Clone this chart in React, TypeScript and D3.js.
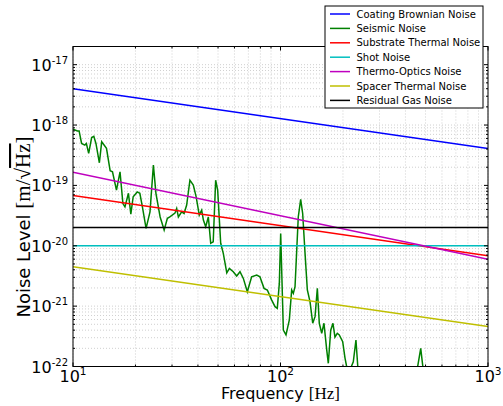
import React from "react";
import * as d3 from "d3";

// straight lines on log-log axes: values read at 10 Hz and 1 kHz
const lineFreqs = [10, 1000];
const coatingBrownian = [4.0e-18, 4.1e-19];
const substrateThermal = [6.8e-20, 6.8e-21];
const shotNoise = [1.0e-20, 1.0e-20];
const thermoOptics = [1.66e-19, 6.0e-21];
const spacerThermal = [4.5e-21, 4.6e-22];
const residualGas = [2.0e-20, 2.0e-20];

// seismic noise trace
const seismicFreqs = [
  10.0, 10.5, 10.7, 11.0, 11.4, 11.6, 11.9, 12.3, 12.6, 12.9,
  13.4, 13.75, 14.5, 15.1, 15.5, 16.2, 16.85, 17.4, 17.8, 18.5,
  19.0, 19.5, 20.4, 21.0, 21.6, 22.5, 23.5, 24.4, 25.1, 26.3,
  27.5, 28.5, 29.3, 31.0, 31.6, 32.2, 33.4, 34.3, 35.3, 36.6,
  38.0, 39.2, 40.6, 41.7, 42.5, 43.6, 44.9, 46.1, 47.4, 48.7,
  49.8, 51.5, 53.0, 55.1, 56.7, 59.2, 61.5, 63.8, 66.2, 69.2,
  72.6, 76.8, 79.6, 83.3, 86.4, 90.7, 94.1, 96.5, 98.7, 100.2,
  103.2, 106.3, 110.3, 113.2, 115.3, 117.5, 121.8, 125.1, 127.9, 131.3,
  134.7, 138.8, 143, 146.7, 150.5, 153.8, 158, 162, 167, 170,
  174.6, 179, 183, 187.8, 192, 199.4, 204.6, 210, 216, 224.3,
  231, 236.4, 285, 377, 457, 474, 486, 656, 1000,
];
const seismic = [
  8.55e-19, 8.0e-19, 8.0e-19, 4.95e-19, 4.65e-19, 4.95e-19, 3.4e-19, 6.2e-19, 6.5e-19, 4.95e-19,
  2.37e-19, 5.27e-19, 4.1e-19, 1.75e-19, 1.68e-19, 8.35e-20, 1.68e-19, 5.0e-20, 4.4e-20, 7.4e-20,
  3.35e-20, 6.5e-20, 7.8e-20, 7.4e-20, 4.4e-20, 1.94e-20, 3.65e-20, 2.17e-19, 7.4e-20, 3.0e-20,
  1.82e-20, 2.85e-20, 3.0e-20, 3.47e-20, 4.15e-20, 3.0e-20, 3.65e-20, 3.43e-20, 4.72e-20, 1.22e-19,
  1.01e-19, 6.5e-20, 3.22e-20, 3.9e-20, 2.66e-20, 2.07e-20, 3.0e-20, 1.1e-20, 1.16e-20, 1.22e-19,
  8.35e-20, 1.1e-20, 7.5e-21, 3.57e-21, 4.23e-21, 3.72e-21, 3.15e-21, 3.72e-21, 2.88e-21, 1.73e-21,
  3.07e-21, 3.27e-21, 3.07e-21, 1.97e-21, 1.85e-21, 1.26e-21, 9.8e-22, 9.2e-22, 2.38e-21, 1.6e-20,
  4.0e-22, 3.33e-22, 5.9e-22, 1.85e-21, 1.63e-21, 2.1e-21, 3.0e-20, 5.86e-20, 3.43e-20, 7.5e-21,
  1.85e-21, 1.18e-21, 5.2e-22, 6.7e-22, 1.97e-21, 5.2e-22, 3.55e-22, 5.2e-22, 1.88e-22, 1.13e-22,
  4.0e-22, 5.2e-22, 3.08e-22, 3.55e-22, 3.33e-22, 2.58e-22, 1.38e-22, 8.7e-23, 8.7e-23, 1.2e-22,
  2.75e-22, 8.7e-23, 5e-23, 6e-23, 9.5e-23, 2.0e-22, 9.5e-23, 5e-23, 6e-23,
];

const xTickExps = [1, 2, 3];
const yTickExps = [-22, -21, -20, -19, -18, -17];

const legendLabels = [
  "Coating Brownian Noise",
  "Seismic Noise",
  "Substrate Thermal Noise",
  "Shot Noise",
  "Thermo-Optics Noise",
  "Spacer Thermal Noise",
  "Residual Gas Noise",
];
const colors = ["#0000ff", "#008000", "#ff0000", "#00bfbf", "#bf00bf", "#bfbf00", "#000000"];

const W = 503;
const H = 406;
const margin = { top: 46.5, right: 15, bottom: 39.5, left: 73 };
const font = "DejaVu Sans, sans-serif";
const serif = "Liberation Serif, serif";

export default function App() {
  const x = d3.scaleLog().domain([10, 1000]).range([margin.left, W - margin.right]);
  const y = d3.scaleLog().domain([1e-22, 2e-17]).range([H - margin.bottom, margin.top]);
  const [x0, x1] = x.range();
  const [y0, y1] = y.range();

  const line = d3
    .line<[number, number]>()
    .x((d) => x(d[0]))
    .y((d) => y(d[1]));

  const pair = (fs: number[], vs: number[]) => fs.map((f, i) => [f, vs[i]] as [number, number]);
  const series = [
    pair(lineFreqs, coatingBrownian),
    pair(seismicFreqs, seismic),
    pair(lineFreqs, substrateThermal),
    pair(lineFreqs, shotNoise),
    pair(lineFreqs, thermoOptics),
    pair(lineFreqs, spacerThermal),
    pair(lineFreqs, residualGas),
  ];

  const xMajor = xTickExps.map((e) => Math.pow(10, e));
  const xMinor = [10, 100].flatMap((d) => d3.range(2, 10).map((m) => m * d));
  const yMajor = yTickExps.map((e) => Math.pow(10, e));
  const yMinor = yTickExps.flatMap((e) => d3.range(2, 10).map((m) => m * Math.pow(10, e))).filter((v) => v <= 2e-17);

  const gridStyle = { stroke: "#c4c4c4", strokeWidth: 0.8, strokeDasharray: "1,2" };

  return (
    <svg width={W} height={H} style={{ position: "absolute", left: 0, top: 0, background: "#fff" }}>
      <defs>
        <clipPath id="plot">
          <rect x={x0} y={y1} width={x1 - x0} height={y0 - y1} />
        </clipPath>
      </defs>

      {/* grid */}
      {[...xMajor, ...xMinor].map((v, i) => (
        <line key={"gx" + i} x1={x(v)} x2={x(v)} y1={y0} y2={y1} {...gridStyle} />
      ))}
      {[...yMajor, ...yMinor].map((v, i) => (
        <line key={"gy" + i} x1={x0} x2={x1} y1={y(v)} y2={y(v)} {...gridStyle} />
      ))}

      {/* series */}
      <g clipPath="url(#plot)">
        {series.map((s, i) => (
          <path key={i} d={line(s) || ""} fill="none" stroke={colors[i]} strokeWidth={1.5} />
        ))}
      </g>

      {/* ticks, inside, on all sides */}
      {xMajor.map((v, i) => (
        <g key={"xt" + i}>
          <line x1={x(v)} x2={x(v)} y1={y0} y2={y0 - 4} stroke="#000" />
          <line x1={x(v)} x2={x(v)} y1={y1} y2={y1 + 4} stroke="#000" />
        </g>
      ))}
      {xMinor.map((v, i) => (
        <g key={"xm" + i}>
          <line x1={x(v)} x2={x(v)} y1={y0} y2={y0 - 2} stroke="#000" />
          <line x1={x(v)} x2={x(v)} y1={y1} y2={y1 + 2} stroke="#000" />
        </g>
      ))}
      {yMajor.map((v, i) => (
        <g key={"yt" + i}>
          <line x1={x0} x2={x0 + 4} y1={y(v)} y2={y(v)} stroke="#000" />
          <line x1={x1} x2={x1 - 4} y1={y(v)} y2={y(v)} stroke="#000" />
        </g>
      ))}
      {yMinor.map((v, i) => (
        <g key={"ym" + i}>
          <line x1={x0} x2={x0 + 2} y1={y(v)} y2={y(v)} stroke="#000" />
          <line x1={x1} x2={x1 - 2} y1={y(v)} y2={y(v)} stroke="#000" />
        </g>
      ))}

      <rect x={x0} y={y1} width={x1 - x0} height={y0 - y1} fill="none" stroke="#000" strokeWidth={1} />

      {/* tick labels */}
      {xTickExps.map((e) => (
        <text key={"xl" + e} x={x(Math.pow(10, e))} y={y0 + 15} textAnchor="middle" fontFamily={font} fontSize={16}>
          10<tspan dy={-6.5} fontSize={10.5}>{e}</tspan>
        </text>
      ))}
      {yTickExps.map((e) => (
        <text key={"yl" + e} x={x0 - 5} y={y(Math.pow(10, e)) + 6} textAnchor="end" fontFamily={font} fontSize={16}>
          10<tspan dy={-7} fontSize={10}>{"-" + Math.abs(e)}</tspan>
        </text>
      ))}

      {/* axis labels */}
      <text x={(x0 + x1) / 2} y={399} textAnchor="middle" fontFamily={font} fontSize={16}>
        Frequency <tspan fontFamily={serif} fontSize={17}>[Hz]</tspan>
      </text>
      <text transform="translate(30,227) rotate(-90)" textAnchor="middle" fontFamily={font} fontSize={18}>
        Noise Level{" "}
        <tspan fontFamily={serif} fontSize={21}>[m/√</tspan>
        <tspan fontFamily={serif} fontSize={21} style={{ textDecoration: "overline" }}>Hz</tspan>
        <tspan fontFamily={serif} fontSize={21}>]</tspan>
      </text>

      {/* legend */}
      <g>
        <rect x={325} y={6} width={158} height={102} fill="#fff" stroke="#000" strokeWidth={1} />
        {legendLabels.map((label, i) => {
          const ly = 14 + i * 14.4;
          return (
            <g key={label}>
              <line x1={330} x2={350} y1={ly} y2={ly} stroke={colors[i]} strokeWidth={1.5} />
              <text x={356.5} y={ly + 3.6} fontFamily={font} fontSize={10}>
                {label}
              </text>
            </g>
          );
        })}
      </g>
    </svg>
  );
}
